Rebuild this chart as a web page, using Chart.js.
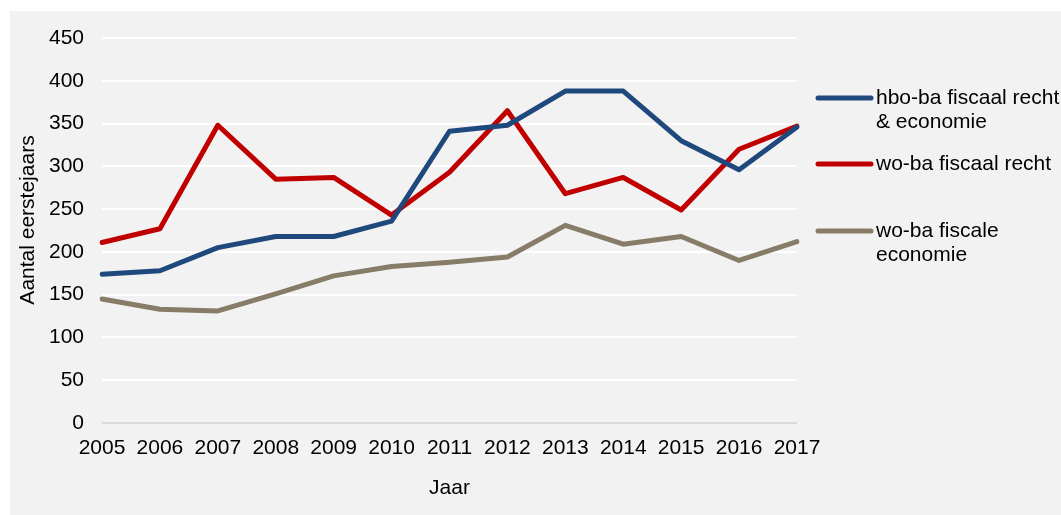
<!DOCTYPE html>
<html>
<head>
<meta charset="utf-8">
<script src="https://cdn.jsdelivr.net/npm/chart.js@4"></script>
<style>
    html, body { margin: 0; padding: 0; background: #ffffff; }
    #wrap { position: absolute; left: 10px; top: 11px; width: 1051px; height: 504px; background: #f2f2f2; }
</style>
</head>
<body>
<div id="wrap"><canvas id="chart" width="1051" height="504"></canvas></div>
<script>
const years = ['2005', '2006', '2007', '2008', '2009', '2010', '2011', '2012', '2013', '2014', '2015', '2016', '2017'];

const hboFiscaal = [174, 178, 205, 218, 218, 236, 341, 348, 388, 388, 330, 296, 346];
const woFiscaalRecht = [211, 227, 348, 285, 287, 243, 293, 365, 268, 287, 249, 320, 347];
const woFiscaleEconomie = [145, 133, 131, 151, 172, 183, 188, 194, 231, 209, 218, 190, 212];

const yTicks = [0, 50, 100, 150, 200, 250, 300, 350, 400, 450];

const legendLines = [
    ['hbo-ba fiscaal recht', '& economie'],
    ['wo-ba fiscaal recht'],
    ['wo-ba fiscale', 'economie']
];

const FONT = '"Liberation Sans", Arial, sans-serif';

// legend + axis titles drawn by hand (legend labels wrap over two lines)
const extras = {
    id: 'extras',
    afterDraw: function (chart) {
        const ctx = chart.ctx;
        const area = chart.chartArea;
        ctx.save();
        ctx.fillStyle = '#000000';
        ctx.font = '21px ' + FONT;
        ctx.textBaseline = 'middle';

        const rowY = [87, 153, 220];
        chart.data.datasets.forEach(function (ds, i) {
            const y = rowY[i];
            ctx.strokeStyle = ds.borderColor;
            ctx.lineWidth = 5;
            ctx.lineCap = 'round';
            ctx.beginPath();
            ctx.moveTo(808, y);
            ctx.lineTo(861, y);
            ctx.stroke();
            legendLines[i].forEach(function (t, j) {
                ctx.fillText(t, 866, y + j * 24);
            });
        });

        ctx.textAlign = 'center';
        ctx.fillText('Jaar', (area.left + area.right) / 2, 477);

        ctx.translate(18, 209);
        ctx.rotate(-Math.PI / 2);
        ctx.fillText('Aantal eerstejaars', 0, 0);
        ctx.restore();
    }
};

function line(label, data, color) {
    return {
        label: label,
        data: data,
        borderColor: color,
        backgroundColor: color,
        borderWidth: 5,
        pointRadius: 0,
        tension: 0,
        borderJoinStyle: 'round',
        borderCapStyle: 'round',
        fill: false
    };
}

new Chart(document.getElementById('chart'), {
    type: 'line',
    data: {
        labels: years,
        datasets: [
            line(legendLines[0].join(' '), hboFiscaal, '#1f497d'),
            line(legendLines[1].join(' '), woFiscaalRecht, '#c00000'),
            line(legendLines[2].join(' '), woFiscaleEconomie, '#877c68')
        ]
    },
    options: {
        responsive: false,
        animation: false,
        layout: { padding: { left: 0, top: 27, right: 264, bottom: 0 } },
        plugins: {
            legend: { display: false },
            tooltip: { enabled: false }
        },
        scales: {
            x: {
                offset: false,
                grid: { display: false, drawTicks: false },
                border: { display: false },
                ticks: {
                    color: '#000000',
                    font: { family: FONT, size: 21 },
                    padding: 13,
                    autoSkip: false,
                    maxRotation: 0
                },
                afterFit: function (scale) { scale.height = 92; }
            },
            y: {
                min: 0,
                max: 450,
                afterBuildTicks: function (scale) {
                    scale.ticks = yTicks.map(function (v) { return { value: v }; });
                },
                grid: {
                    drawTicks: false,
                    lineWidth: 2,
                    color: function (c) { return c.tick && c.tick.value === 0 ? '#d9d9d9' : '#ffffff'; }
                },
                border: { display: false },
                ticks: {
                    color: '#000000',
                    font: { family: FONT, size: 21 },
                    padding: 18
                },
                afterFit: function (scale) {
                    scale.width = 92;
                    scale.paddingTop = 0;
                    scale.paddingBottom = 0;
                }
            }
        }
    },
    plugins: [extras]
});
</script>
</body>
</html>
